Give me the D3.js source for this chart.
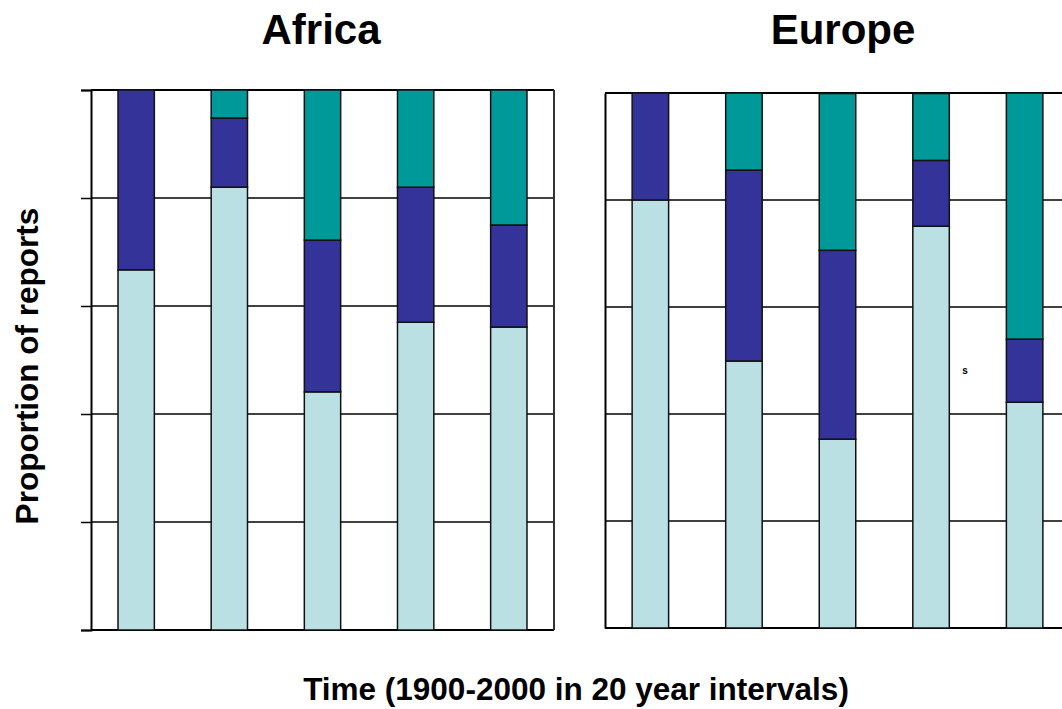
<!DOCTYPE html>
<html><head><meta charset="utf-8">
<script src="https://cdn.jsdelivr.net/npm/d3@7"></script>
<style>body{margin:0;background:#fff}svg{display:block}text{font-family:"Liberation Sans",Arial,sans-serif;font-weight:bold}</style>
</head><body><svg id="c" width="1062" height="709"></svg>
<script>
const periods = ["1900-1920","1920-1940","1940-1960","1960-1980","1980-2000"];
const seriesKeys = ["light","dark","teal"];
const colors = ["#BBE0E3","#333399","#009999"];
const africaLight = [0.667,0.820,0.441,0.570,0.561];
const africaDark  = [0.333,0.128,0.281,0.250,0.189];
const africaTeal  = [0.000,0.052,0.278,0.180,0.250];
const europeLight = [0.800,0.499,0.353,0.751,0.422];
const europeDark  = [0.200,0.357,0.353,0.123,0.118];
const europeTeal  = [0.000,0.144,0.293,0.125,0.460];
const yTicks = [0,0.2,0.4,0.6,0.8,1.0];

const svg = d3.select("#c");

function build(light,dark,teal){
  return periods.map((p,i)=>({period:p,light:light[i],dark:dark[i],teal:teal[i]}));
}

function panel(opts){
  const {x0,x1,yTop,yBot,data,title,titleX,ticks,rightBorder} = opts;
  const g = svg.append("g");
  const x = d3.scaleBand().domain(periods).range([x0,x1]).paddingInner(0.61).paddingOuter(0.29);
  const y = d3.scaleLinear().domain([0,1]).range([yBot,yTop]);
  g.selectAll("line.grid").data(yTicks).join("line")
    .attr("x1",x0).attr("x2",x1).attr("y1",d=>y(d)).attr("y2",d=>y(d))
    .attr("stroke","#000").attr("stroke-width",d=>(d===0||d===1)?2:1.5);
  const ax = d3.axisLeft(y).tickValues(yTicks).tickSize(ticks?10:0).tickFormat("");
  const axg = g.append("g").attr("transform",`translate(${x0},0)`).call(ax);
  axg.select(".domain").attr("stroke","#000").attr("stroke-width",2);
  axg.selectAll(".tick line").attr("stroke","#000").attr("stroke-width",1.5);
  if(rightBorder){
    g.append("line").attr("x1",x1).attr("x2",x1).attr("y1",yTop).attr("y2",yBot)
      .attr("stroke","#333").attr("stroke-width",2);
  }
  const stack = d3.stack().keys(seriesKeys)(data);
  g.selectAll("g.s").data(stack).join("g").attr("fill",(d,i)=>colors[i])
    .selectAll("rect").data(d=>d.filter(e=>e[1]-e[0]>0)).join("rect")
    .attr("x",d=>x(d.data.period)).attr("width",x.bandwidth())
    .attr("y",d=>y(d[1])).attr("height",d=>y(d[0])-y(d[1]))
    .attr("stroke","#111").attr("stroke-width",1.5);
  svg.append("text").attr("x",titleX).attr("y",44).attr("text-anchor","middle")
    .attr("font-size",42).text(title);
}

panel({x0:91,x1:554,yTop:90,yBot:630,data:build(africaLight,africaDark,africaTeal),title:"Africa",titleX:321,ticks:true,rightBorder:true});
panel({x0:605,x1:1070,yTop:93,yBot:628,data:build(europeLight,europeDark,europeTeal),title:"Europe",titleX:843,ticks:false,rightBorder:false});

svg.append("text").attr("x",965).attr("y",374).attr("text-anchor","middle").attr("font-size",10).text("s");

svg.append("text").attr("transform","translate(38,366) rotate(-90)").attr("text-anchor","middle")
  .attr("font-size",31.5).text("Proportion of reports");
svg.append("text").attr("x",576).attr("y",700).attr("text-anchor","middle")
  .attr("font-size",31.5).text("Time (1900-2000 in 20 year intervals)");
</script></body></html>
